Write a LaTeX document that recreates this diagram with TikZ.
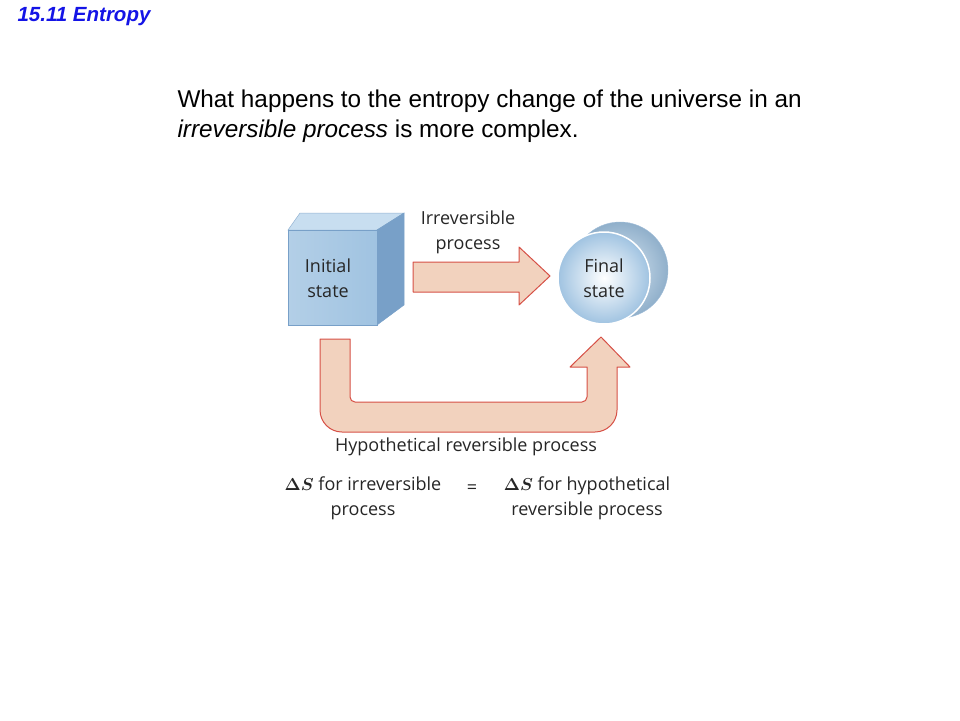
\documentclass[tikz,border=0pt]{standalone}
\usepackage{amsmath,amssymb}
\usepackage{fontspec}
\setmainfont{Liberation Sans}
\newfontfamily\lab{Open Sans}
\usetikzlibrary{shadings}
\definecolor{arrowfill}{RGB}{242,210,190}
\definecolor{arrowline}{RGB}{214,80,70}
\definecolor{cubefront}{RGB}{160,195,225}
\definecolor{cubetop}{RGB}{200,222,240}
\definecolor{cubeside}{RGB}{120,160,200}
\definecolor{titleblue}{RGB}{20,20,230}
\begin{document}
\begin{tikzpicture}[x=1pt,y=-1pt,
  bigarrow/.style={fill=arrowfill,draw=arrowline,line width=1pt,line join=round},
  lbl/.style={font=\lab\fontsize{18}{25}\selectfont,align=center,text=black!85},
  body/.style={font=\fontsize{24.3}{30}\selectfont,anchor=west}]
\useasboundingbox (0,0) rectangle (960,720);
\node[anchor=west,text=titleblue,font=\bfseries\itshape\fontsize{20.5}{22}\selectfont] (title) at (14,17) {15.11 Entropy};
\node[body] (l1) at (174,101) {What happens to the entropy change of the universe in an};
\node[body] (l2) at (174,131) {\textit{irreversible process} is more complex.};
% cube
\fill[cubetop,draw=cubeside!80,line width=0.5pt] (288,230) -- (300,213) -- (404,213) -- (377,230) -- cycle;
\fill[cubeside,draw=cubeside,line width=0.5pt] (377,230) -- (404,213) -- (404,305) -- (377,325) -- cycle;
\shade[left color=cubefront!80,right color=cubefront,draw=cubeside,line width=0.5pt] (288,230) rectangle (377,325);
\node[lbl] (init) at (328,278) {Initial\\state};
% disk
\shade[inner color=cubefront!40!white,outer color=cubefront!90!black,draw=cubeside!70] (620,270) circle (48);
\shade[inner color=white,outer color=cubefront,draw=white,line width=1.5pt] (604,278) circle (46);
\node[lbl] (fin) at (604,278) {Final\\state};
% irreversible arrow
\draw[bigarrow] (413,262) -- (519,262) -- (519,247) -- (550,276) -- (519,305) -- (519,292) -- (413,292) -- cycle;
\node[lbl] (irr) at (468,232) {Irreversible\\process};
% U arrow
\draw[bigarrow] (320,339) -- (350,339) [rounded corners=5pt]-- (350,402) -- (587,402) [sharp corners]-- (587,367) -- (570,367) -- (601,337) -- (630,367) -- (617,367) [rounded corners=22pt]-- (617,432) -- (320,432) [sharp corners]-- cycle;
\node[lbl] (hyp) at (466,447) {Hypothetical reversible process};
\node[lbl] (lhs) at (363,498) {$\boldsymbol{\Delta}\boldsymbol{S}$ for irreversible\\process};
\node[lbl] (eq) at (472,489) {=};
\node[lbl] (rhs) at (587,498) {$\boldsymbol{\Delta}\boldsymbol{S}$ for hypothetical\\reversible process};
\end{tikzpicture}
\end{document}
